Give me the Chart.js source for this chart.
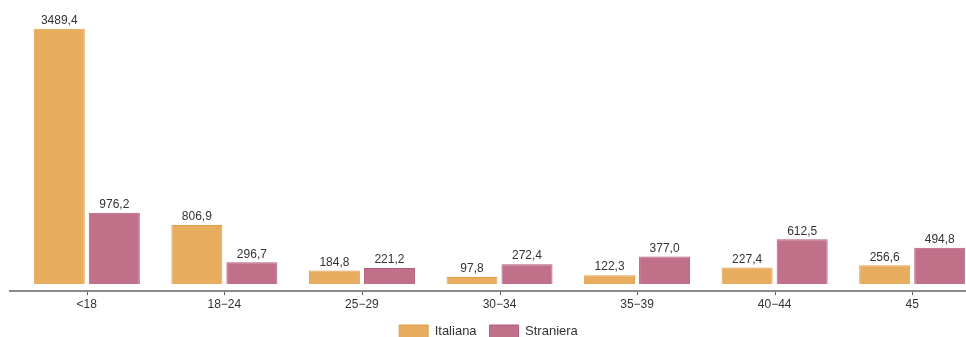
<!DOCTYPE html>
<html>
<head>
<meta charset="utf-8">
<script src="https://cdn.jsdelivr.net/npm/chart.js@4/dist/chart.umd.min.js"></script>
<style>
  html, body { margin: 0; padding: 0; background: #fff; overflow: hidden; }
  #wrap { position: relative; width: 981px; height: 348px; }
</style>
</head>
<body>
<div id="wrap"><canvas id="c"></canvas></div>
<script>
// Age classes and rates per group
const categories = ['<18', '18\u221224', '25\u221229', '30\u221234', '35\u221239', '40\u221244', '45'];
const italiana  = [3489.4, 806.9, 184.8, 97.8, 122.3, 227.4, 256.6];
const straniera = [976.2, 296.7, 221.2, 272.4, 377.0, 612.5, 494.8];
const seriesNames = ['Italiana', 'Straniera'];

const fmt = v => v.toFixed(1).replace('.', ',');
const FONT = '"Liberation Sans", Arial, sans-serif';

// Value labels above each bar
const valueLabels = {
  id: 'valueLabels',
  afterDatasetsDraw(chart) {
    const ctx = chart.ctx;
    ctx.save();
    ctx.font = '12px ' + FONT;
    ctx.fillStyle = '#333';
    ctx.textAlign = 'center';
    ctx.textBaseline = 'bottom';
    chart.data.datasets.forEach((ds, i) => {
      chart.getDatasetMeta(i).data.forEach((bar, j) => {
        ctx.fillText(fmt(ds.data[j]), bar.x, bar.y - 2);
      });
    });
    ctx.restore();
  }
};

// Baseline and category tick marks
const baseline = {
  id: 'baseline',
  afterDraw(chart) {
    const ctx = chart.ctx;
    const area = chart.chartArea;
    const xs = chart.scales.x;
    const y = area.bottom;
    ctx.save();
    ctx.strokeStyle = '#8a8a8a';
    ctx.lineWidth = 2;
    ctx.beginPath();
    ctx.moveTo(area.left - 9, y);
    ctx.lineTo(area.right, y);
    ctx.stroke();
    ctx.lineWidth = 1;
    ctx.strokeStyle = '#555';
    categories.forEach((c, i) => {
      const x = Math.round(xs.getPixelForValue(i)) + 0.5;
      ctx.beginPath();
      ctx.moveTo(x, y + 1);
      ctx.lineTo(x, y + 4);
      ctx.stroke();
    });
    ctx.restore();
  }
};

// Nudge the legend row slightly left of the plot centre
const legendShift = {
  id: 'legendShift',
  afterLayout(chart) {
    if (chart.legend) {
      chart.legend.left -= 11;
      chart.legend.right -= 11;
    }
  }
};

new Chart(document.getElementById('c'), {
  type: 'bar',
  data: {
    labels: categories,
    datasets: [
      {
        label: seriesNames[0],
        data: italiana,
        backgroundColor: '#E8AC5E',
        borderColor: '#E29E46',
        borderWidth: 1,
        categoryPercentage: 0.8,
        barPercentage: 0.927
      },
      {
        label: seriesNames[1],
        data: straniera,
        backgroundColor: '#C1708A',
        borderColor: '#B45C79',
        borderWidth: 1,
        categoryPercentage: 0.8,
        barPercentage: 0.927
      }
    ]
  },
  options: {
    responsive: true,
    maintainAspectRatio: false,
    animation: false,
    layout: { padding: { left: 18, right: 0, top: 6, bottom: 0 } },
    scales: {
      x: {
        grid: { display: false, drawTicks: false },
        border: { display: false },
        ticks: {
          color: '#333',
          padding: 6,
          font: { family: FONT, size: 12 }
        },
        afterFit(scale) { scale.height -= 5.5; }
      },
      y: {
        display: false,
        min: -96,
        max: 3800
      }
    },
    plugins: {
      legend: {
        position: 'bottom',
        labels: {
          color: '#333',
          boxWidth: 29,
          boxHeight: 13,
          padding: 13,
          font: { family: FONT, size: 13 }
        }
      },
      tooltip: { enabled: false }
    }
  },
  plugins: [valueLabels, baseline, legendShift]
});
</script>
</body>
</html>
